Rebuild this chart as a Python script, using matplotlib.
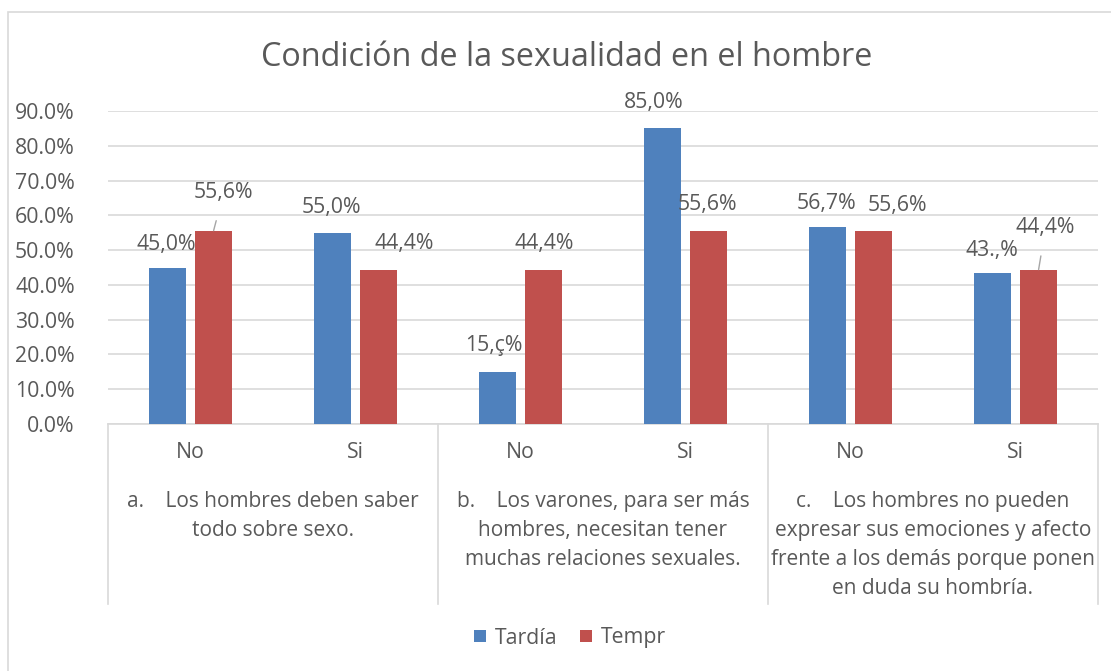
import matplotlib
matplotlib.use("Agg")
import matplotlib.pyplot as plt
from matplotlib.patches import Rectangle
from matplotlib.lines import Line2D
import matplotlib.transforms as mtransforms
import numpy as np

plt.rcParams['font.family'] = ['Open Sans', 'DejaVu Sans']

title = "Condición de la sexualidad en el hombre"
answers = ["No", "Si", "No", "Si", "No", "Si"]
groups = [
    "a.    Los hombres deben saber\ntodo sobre sexo.",
    "b.    Los varones, para ser más\nhombres, necesitan tener\nmuchas relaciones sexuales.",
    "c.    Los hombres no pueden\nexpresar sus emociones y afecto\nfrente a los demás porque ponen\nen duda su hombría.",
]
series_names = ["Tardía", "Tempr"]
tardia = [0.450, 0.550, 0.150, 0.850, 0.567, 0.433]
tempr = [0.556, 0.444, 0.444, 0.556, 0.556, 0.444]
tardia_labels = ["45,0%", "55,0%", "15,ç%", "85,0%", "56,7%", "43.,%"]
tempr_labels = ["55,6%", "44,4%", "44,4%", "55,6%", "55,6%", "44,4%"]
yticks = [0.0, 0.1, 0.2, 0.3, 0.4, 0.5, 0.6, 0.7, 0.8, 0.9]

# label offsets in pixels (dx, dy) from bar top centre
tardia_off = [(-1, 23), (-1, 25), (-4, 26), (-9, 26), (-1, 23), (-1, 23)]
tempr_off = [(10, 38), (26, 26), (1, 26), (-1, 26), (24, 25), (7, 42)]
tempr_leader = [True, False, False, False, False, True]

BLUE = "#4F81BD"
RED = "#C0504D"
TXT = "#595959"
GRID = "#D9D9D9"
FS = 15.3

W, H = 1111, 671
fig = plt.figure(figsize=(W / 100, H / 100), dpi=100)
fig.patch.set_facecolor("white")

# chart border
fig.patches.append(Rectangle((8 / W, -0.05), 1.2, 1 - 12 / H + 0.05,
                             transform=fig.transFigure, fill=False,
                             edgecolor=GRID, linewidth=1.2))

ax_left, ax_right, ax_bot, ax_top = 108, 1098, 424, 111
ax = fig.add_axes([ax_left / W, 1 - ax_bot / H, (ax_right - ax_left) / W,
                   (ax_bot - ax_top) / H])
ax.set_facecolor("none")
x = np.arange(len(answers))
bw = 0.224
off = 0.14
ax.bar(x - off, tardia, bw, color=BLUE, label=series_names[0], zorder=3)
ax.bar(x + off, tempr, bw, color=RED, label=series_names[1], zorder=3)

ax.set_xlim(-0.5, len(answers) - 0.5)
ax.set_ylim(0, 0.9)
ax.set_yticks(yticks)
ax.set_yticklabels([f"{v*100:.1f}%" for v in yticks], color=TXT, fontsize=FS)
ax.tick_params(axis="y", length=0, pad=24)
ax.set_xticks([])
ax.grid(axis="y", color=GRID, linewidth=1.2, zorder=0)
for s in ["left", "right", "top"]:
    ax.spines[s].set_visible(False)
ax.spines["bottom"].set_color(GRID)
ax.spines["bottom"].set_linewidth(1.2)

# data labels
for i in range(len(answers)):
    dx, dy = tardia_off[i]
    ax.annotate(tardia_labels[i], (x[i] - off, tardia[i]), xytext=(dx, dy),
                textcoords="offset pixels", ha="center", va="center",
                fontsize=FS, color=TXT, zorder=4)
    dx, dy = tempr_off[i]
    if tempr_leader[i]:
        ax.annotate(tempr_labels[i], (x[i] + off, tempr[i]), xytext=(dx, dy),
                    textcoords="offset pixels", ha="center", va="center",
                    fontsize=FS, color=TXT, zorder=4,
                    arrowprops=dict(arrowstyle="-", color="#A6A6A6", lw=1,
                                    shrinkA=11, shrinkB=0))
    else:
        ax.annotate(tempr_labels[i], (x[i] + off, tempr[i]), xytext=(dx, dy),
                    textcoords="offset pixels", ha="center", va="center",
                    fontsize=FS, color=TXT, zorder=4)

trans = mtransforms.blended_transform_factory(ax.transData, ax.transAxes)
ph = ax_bot - ax_top
# category labels
for i, a in enumerate(answers):
    ax.text(x[i], -(453 - ax_bot) / ph, a, transform=trans, ha="center",
            va="center", fontsize=FS, color=TXT)
# group labels
for g, lab in enumerate(groups):
    ax.text(2 * g + 0.5, -(491 - ax_bot) / ph, lab, transform=trans,
            ha="center", va="top", fontsize=15, color=TXT, linespacing=1.5)
# separators
for xs in [-0.5, 1.5, 3.5, 5.5]:
    ax.add_line(Line2D([xs, xs], [0, -(604 - ax_bot) / ph], transform=trans,
                       color=GRID, linewidth=1.2, clip_on=False))

fig.text(567 / W, 1 - 58 / H, title, ha="center", va="center", fontsize=23.3,
         color=TXT)

leg = fig.legend(loc="center", bbox_to_anchor=(570 / W, 1 - 638 / H),
                 ncol=2, frameon=False, fontsize=FS, handlelength=0.55,
                 handleheight=0.55, handletextpad=0.4, columnspacing=1.1,
                 labelcolor=TXT)

fig.savefig("out.png", dpi=100)
